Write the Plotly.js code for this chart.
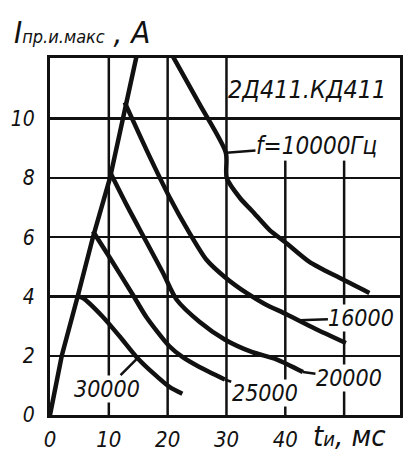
<!DOCTYPE html>
<html>
<head>
<meta charset="utf-8">
<script src="https://cdn.plot.ly/plotly-3.0.1.min.js"></script>
<style>html,body{margin:0;padding:0;background:#fff;}#chart{width:406px;height:457px;}</style>
</head>
<body>
<div id="chart"></div>
<script>
// Envelope (locus of peaks)
const envT = [0, 2, 4.7, 7.3, 10.2, 12.4, 14.7];
const envI = [0, 2, 4, 6, 8, 10, 12.1];
// f = 10000 Hz
const t10000 = [20.9, 25.4, 29.9, 30.05, 32.4, 34.4, 37.3, 40.2, 44.1, 49.2, 54.3];
const i10000 = [12.1, 10.5, 8.85, 8.0, 7.3, 6.88, 6.25, 5.8, 5.17, 4.63, 4.12];
// f = 16000 Hz
const t16000 = [12.7, 16.4, 20.3, 23.7, 26.6, 29.7, 33.4, 36.5, 40.2, 45.0, 50.3];
const i16000 = [10.55, 8.95, 7.36, 6.15, 5.24, 4.66, 4.12, 3.75, 3.4, 2.92, 2.43];
// f = 20000 Hz
const t20000 = [10.2, 13.0, 16.1, 19.2, 21.5, 25.4, 29.7, 34.4, 38.5, 43.0];
const i20000 = [8.2, 7.1, 5.95, 4.8, 3.9, 3.15, 2.55, 2.12, 1.88, 1.45];
// f = 25000 Hz
const t25000 = [7.3, 10.2, 13.9, 16.4, 20.3, 22.5, 25.4, 29.7];
const i25000 = [6.2, 5.3, 4.12, 3.3, 2.32, 1.96, 1.62, 1.2];
// f = 30000 Hz
const t30000 = [4.7, 5.6, 9.0, 11.9, 14.7, 17.5, 20.3, 22.5];
const i30000 = [4.0, 3.95, 3.31, 2.64, 1.96, 1.42, 0.95, 0.72];

const xTicks = [0, 10, 20, 30, 40];
const xTickText = ['0', '10', '20', '30', '40'];
const yTicks = [0, 2, 4, 6, 8, 10];
const yTickText = ['0', '2', '4', '6', '8', '10'];

const FONT = "'Liberation Sans Narrow', 'DejaVu Sans Condensed', 'Roboto Condensed', 'Liberation Sans', sans-serif";
const lw = 4.5;
function curve(x, y, shape) {
  return {x: x, y: y, mode: 'lines', type: 'scatter', hoverinfo: 'skip',
    line: {color: '#111', width: lw, shape: shape || 'spline', smoothing: 0.7}};
}
const traces = [
  curve(envT, envI, 'linear'),
  curve(t10000, i10000),
  curve(t16000, i16000),
  curve(t20000, i20000),
  curve(t25000, i25000),
  curve(t30000, i30000)
];

const gridFull = [10, 20, 30];
const gridPartial = [40, 50];
const shapes = [];
gridFull.forEach(v => shapes.push({type: 'line', xref: 'x', yref: 'paper', x0: v, x1: v, y0: 0, y1: 1, layer: 'below', line: {color: '#111', width: 2.5}}));
gridPartial.forEach(v => shapes.push({type: 'line', xref: 'x', yref: 'y', x0: v, x1: v, y0: 0, y1: 8.6, layer: 'below', line: {color: '#111', width: 2.5}}));

function lab(text, x, y, ax, ay, size) {
  return {text: text, x: x, y: y, xref: 'x', yref: 'y', showarrow: true, ax: ax, ay: ay,
    arrowhead: 0, arrowwidth: 2.5, arrowcolor: '#111', standoff: 0, startstandoff: 0,
    bgcolor: '#fff', borderpad: 0,
    font: {family: FONT, size: size || 23, color: '#111', style: 'italic'}};
}
const annotations = [
  {text: '2Д411.КД411', x: 43.7, y: 11.0, xref: 'x', yref: 'y', showarrow: false,
   font: {family: FONT, size: 25, color: '#111', style: 'italic'}},
  lab('f=10000Гц', 30.0, 8.85, 90, -7, 24),
  lab('16000', 42.4, 3.2, 62, -2),
  lab('20000', 43.0, 1.45, 46, 6),
  lab('25000', 29.7, 1.2, 40, 14),
  lab('30000', 14.8, 1.9, -30, 30),
  {text: 'I<span style="font-size:18px">пр.и.макс</span> , A', xref: 'paper', yref: 'paper',
   x: -0.11, y: 1.072, xanchor: 'left', yanchor: 'middle', showarrow: false,
   font: {family: FONT, size: 31, color: '#111', style: 'italic'}},
  {text: 't<span style="font-size:20px">и</span>, мс', xref: 'paper', yref: 'paper',
   x: 0.745, y: -0.058, xanchor: 'left', yanchor: 'middle', showarrow: false,
   font: {family: FONT, size: 29, color: '#111', style: 'italic'}}
];

const layout = {
  width: 406, height: 457,
  margin: {l: 50, r: 6, t: 58, b: 42},
  paper_bgcolor: '#fff', plot_bgcolor: '#fff',
  showlegend: false,
  xaxis: {range: [0, 59.5], tickvals: xTicks, ticktext: xTickText, showgrid: false, zeroline: false,
    showline: true, mirror: true, linecolor: '#111', linewidth: 3, ticks: '', ticklabelstandoff: 3,
    tickfont: {family: FONT, size: 22, color: '#111', style: 'italic'}, fixedrange: true},
  yaxis: {range: [0, 12.05], tickvals: yTicks, ticktext: yTickText, showgrid: true, gridcolor: '#111', gridwidth: 2.5,
    zeroline: false, showline: true, mirror: true, linecolor: '#111', linewidth: 3, ticks: '', ticklabelstandoff: 8,
    tickfont: {family: FONT, size: 21, color: '#111', style: 'italic'}, fixedrange: true},
  shapes: shapes,
  annotations: annotations
};
Plotly.newPlot('chart', traces, layout, {displayModeBar: false, staticPlot: true});
</script>
</body>
</html>
